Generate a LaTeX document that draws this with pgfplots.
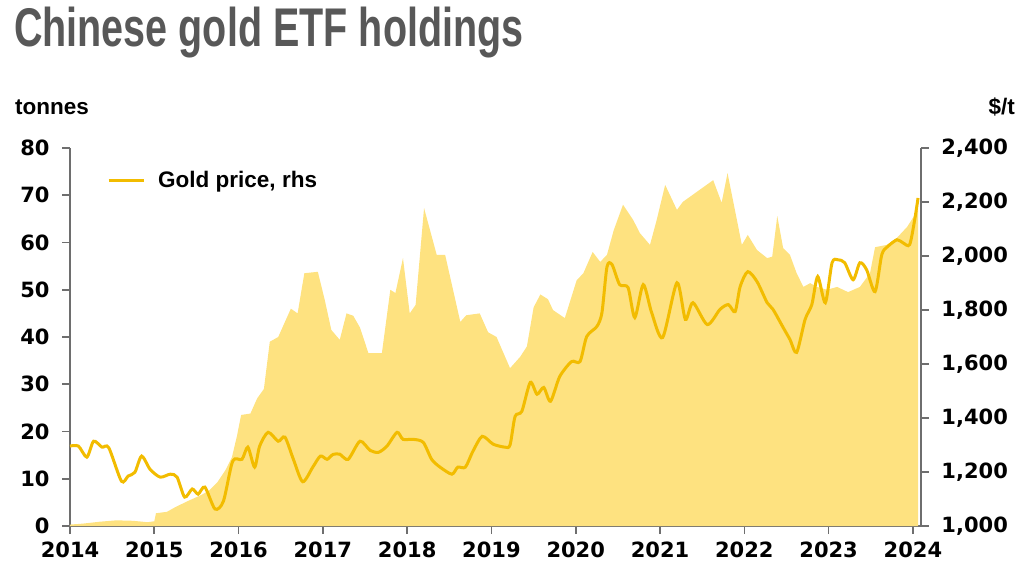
\documentclass[border=0pt]{standalone}
\usepackage{pgfplots}
\pgfplotsset{compat=1.18}
\usepackage{fontspec}
\setmainfont{Liberation Sans}
\newfontfamily\titlefont[FakeStretch=0.725]{Liberation Sans}
\newfontfamily\numfont{DejaVu Sans}
\definecolor{areaY}{RGB}{254,226,128}
\definecolor{lineY}{RGB}{242,188,0}
\definecolor{axgray}{RGB}{110,110,110}
\definecolor{titlegray}{RGB}{88,88,88}
\begin{document}
\begin{tikzpicture}
\useasboundingbox (-70pt,-53pt) rectangle (951pt,526pt);
\pgfplotsset{
  common/.style={
    scale only axis, width=851pt, height=378pt,
    at={(0pt,0pt)}, anchor=south west,
    xmin=2014, xmax=2024.095,
    axis line style={axgray, line width=1.6pt},
    major tick style={axgray, line width=1.6pt},
    major tick length=8pt, tick align=outside,
    /pgf/number format/assume math mode=true,
    tick label style={font=\numfont\bfseries\fontsize{21}{21}\selectfont, black},
  }
}
\begin{axis}[common,
  ymin=0, ymax=80, ytick={0,10,...,80},
  axis x line*=bottom, axis y line*=left,
  xtick={2014,...,2024},
  x tick label style={/pgf/number format/1000 sep={}, yshift=-4pt},
  y tick label style={xshift=-9pt},
]
\addplot[fill=areaY, draw=none] coordinates {
(2014.00,0.3) (2014.15,0.5) (2014.35,0.9) (2014.55,1.2) (2014.75,1.1) (2014.92,0.8)
(2015.00,1.0) (2015.02,2.7) (2015.15,3.0) (2015.25,4.0) (2015.40,5.3) (2015.55,6.5)
(2015.65,7.5) (2015.75,9.3) (2015.85,12.0) (2015.92,14.5) (2015.98,19) (2016.03,23.5)
(2016.14,23.8) (2016.22,27) (2016.30,29) (2016.37,39) (2016.47,40) (2016.57,44)
(2016.62,46) (2016.70,45) (2016.78,53.5) (2016.94,53.8) (2017.02,48) (2017.10,41.5)
(2017.20,39.4) (2017.28,45) (2017.36,44.5) (2017.44,42) (2017.54,36.6) (2017.70,36.6)
(2017.80,50) (2017.86,49.3) (2017.95,56.7) (2018.03,45) (2018.10,46.8) (2018.20,67.3)
(2018.35,57.4) (2018.45,57.4) (2018.63,43.2) (2018.70,44.6) (2018.86,45) (2018.96,41)
(2019.06,40) (2019.22,33.4) (2019.34,35.8) (2019.42,38) (2019.50,46.3) (2019.58,49)
(2019.67,48) (2019.73,45.7) (2019.87,44) (2020.01,52) (2020.09,53.5) (2020.20,58)
(2020.29,55.9) (2020.37,57.4) (2020.45,62.6) (2020.56,68) (2020.68,64.8) (2020.76,62)
(2020.88,59.5) (2020.96,64.8) (2021.06,72.2) (2021.20,66.9) (2021.27,68.6) (2021.63,73.2)
(2021.73,68.4) (2021.80,74.7) (2021.97,59.5) (2022.04,61.6) (2022.15,58.4) (2022.27,56.7)
(2022.33,57) (2022.39,65.6) (2022.46,58.8) (2022.54,57.4) (2022.62,53.5) (2022.70,50.6)
(2022.78,51.4) (2022.86,50.6) (2022.98,50) (2023.10,50.6) (2023.23,49.5) (2023.37,50.6)
(2023.49,53.5) (2023.55,59) (2023.69,59.5) (2023.81,61) (2023.93,63.3) (2024.02,65.8)
(2024.06,67)
} \closedcycle;
\end{axis}
\begin{axis}[common,
  ymin=1000, ymax=2400, ytick={1000,1200,...,2400},
  axis x line=none, axis y line*=right,
  y tick label style={/pgf/number format/1000 sep={,}, xshift=9pt},
  legend style={at={(0.04,0.915)}, anchor=west, draw=none, fill=none,
    font=\bfseries\fontsize{22.5}{24}\selectfont,
    /tikz/every odd column/.append style={column sep=11pt}},
  legend image code/.code={\draw[#1] (0pt,0pt) -- (35pt,0pt);},
]
\addplot[lineY, line width=3pt, smooth, tension=0.45] coordinates {
(2014.00,1296) (2014.10,1296) (2014.20,1255) (2014.28,1314) (2014.38,1292) (2014.46,1290)
(2014.61,1166) (2014.69,1185) (2014.77,1199) (2014.85,1259) (2014.95,1210) (2015.07,1181)
(2015.19,1192) (2015.27,1181) (2015.36,1107) (2015.45,1137) (2015.52,1118) (2015.60,1144)
(2015.72,1063) (2015.82,1092) (2015.93,1240) (2016.04,1247) (2016.11,1292) (2016.19,1218)
(2016.25,1296) (2016.35,1347) (2016.47,1314) (2016.55,1329) (2016.65,1247) (2016.76,1164)
(2016.88,1218) (2016.97,1259) (2017.05,1247) (2017.12,1265) (2017.20,1266) (2017.30,1247)
(2017.44,1314) (2017.56,1280) (2017.66,1273) (2017.76,1296) (2017.88,1347) (2017.95,1321)
(2018.07,1321) (2018.19,1310) (2018.29,1247) (2018.39,1218) (2018.53,1192) (2018.60,1218)
(2018.69,1218) (2018.78,1277) (2018.89,1332) (2019.02,1303) (2019.16,1292) (2019.22,1300)
(2019.28,1406) (2019.36,1425) (2019.46,1532) (2019.54,1488) (2019.62,1513) (2019.70,1462)
(2019.81,1554) (2019.95,1609) (2020.05,1609) (2020.13,1702) (2020.25,1739) (2020.31,1790)
(2020.37,1960) (2020.43,1968) (2020.52,1894) (2020.62,1883) (2020.70,1772) (2020.80,1894)
(2020.90,1790) (2021.03,1698) (2021.20,1901) (2021.30,1765) (2021.39,1827) (2021.56,1746)
(2021.71,1802) (2021.81,1820) (2021.89,1794) (2021.95,1887) (2022.04,1942) (2022.15,1905)
(2022.27,1827) (2022.34,1802) (2022.46,1735) (2022.54,1691) (2022.62,1643) (2022.72,1765)
(2022.80,1820) (2022.87,1924) (2022.96,1827) (2023.04,1975) (2023.11,1986) (2023.19,1975)
(2023.29,1912) (2023.37,1975) (2023.45,1949) (2023.55,1868) (2023.63,2005) (2023.70,2035)
(2023.81,2060) (2023.88,2049) (2023.96,2042) (2024.02,2134) (2024.06,2215)
};
\addlegendentry{Gold price, rhs}
\end{axis}
\node[anchor=base west, inner sep=0pt, text=titlegray, font=\titlefont\bfseries\fontsize{54.5}{60}\selectfont] at (-56pt,479pt) {Chinese gold ETF holdings};
\node[anchor=base west, inner sep=0pt, font=\bfseries\fontsize{22.5}{24}\selectfont] at (-55pt,411pt) {tonnes};
\node[anchor=base east, inner sep=0pt, font=\bfseries\fontsize{22.5}{24}\selectfont] at (945pt,411pt) {\$/t};
\end{tikzpicture}
\end{document}
